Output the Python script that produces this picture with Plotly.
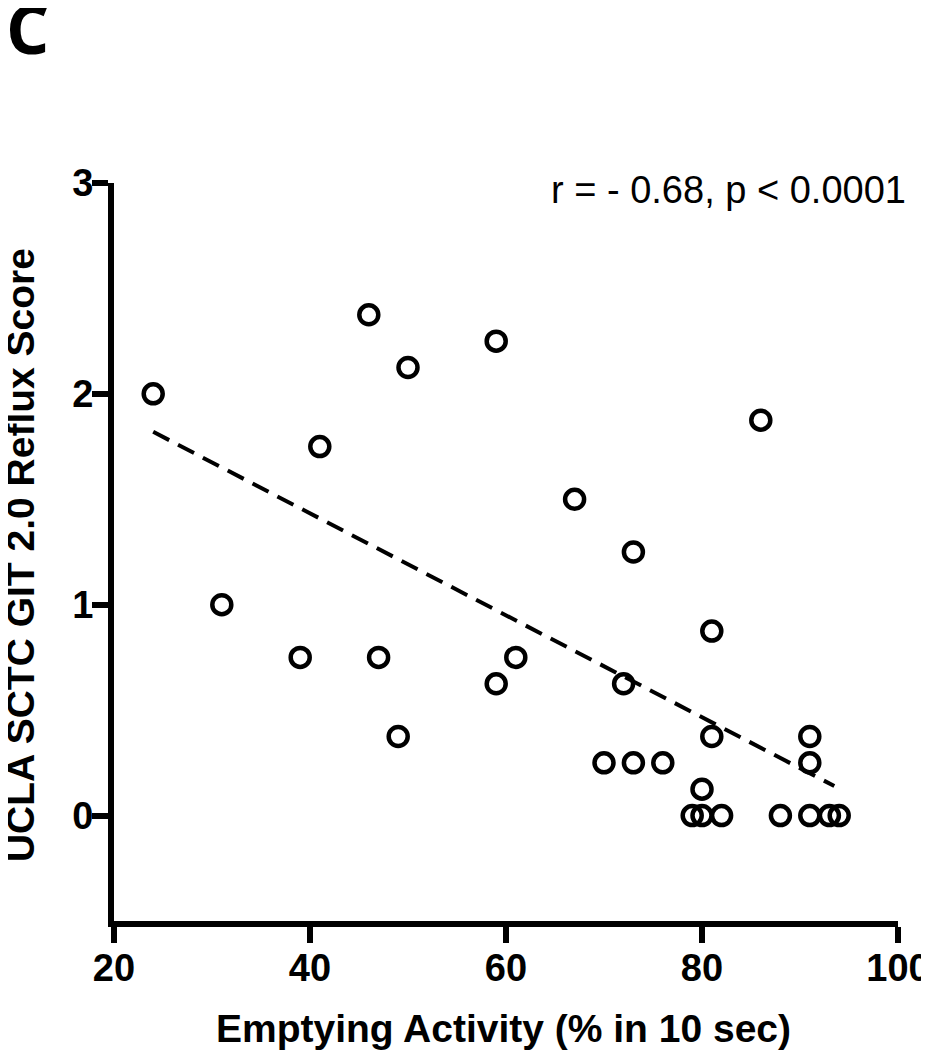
import plotly.graph_objects as go

# Data
emptying_activity = [24, 31, 39, 41, 46, 47, 49, 50, 59, 59, 61, 67, 70, 72, 73, 73, 76,
                     79, 80, 80, 81, 81, 82, 86, 88, 91, 91, 91, 93, 94]
reflux_score = [2.0, 1.0, 0.75, 1.75, 2.375, 0.75, 0.375, 2.125, 2.25, 0.625, 0.75, 1.5,
                0.25, 0.625, 1.25, 0.25, 0.25, 0.0, 0.125, 0.0, 0.875, 0.375, 0.0, 1.875,
                0.0, 0.375, 0.25, 0.0, 0.0, 0.0]
fit_x = [24, 93.5]
fit_y = [1.82, 0.14]

x_ticks = [20, 40, 60, 80, 100]
y_ticks = [0, 1, 2, 3]

FONT = "Liberation Sans, Arial, sans-serif"

fig = go.Figure()
fig.add_trace(go.Scatter(
    x=fit_x, y=fit_y, mode="lines",
    line=dict(color="black", width=4, dash="18px,10px"),
    showlegend=False, hoverinfo="skip"))
fig.add_trace(go.Scatter(
    x=emptying_activity, y=reflux_score, mode="markers",
    marker=dict(symbol="circle-open", size=19, color="black",
                line=dict(width=4.5, color="black")),
    showlegend=False))

tick_font = dict(family=FONT, size=38, color="black", weight="bold")

fig.update_layout(
    width=929, height=1050,
    margin=dict(l=106, r=39, t=175, b=137),
    plot_bgcolor="white", paper_bgcolor="white",
    xaxis=dict(range=[20, 100], tickvals=x_ticks, showgrid=False, zeroline=False,
               showline=True, linecolor="black", linewidth=6, automargin=False,
               ticks="outside", ticklen=16, tickwidth=6, tickcolor="black",
               tickfont=tick_font, ticklabeloverflow="allow", ticklabelstandoff=-8),
    yaxis=dict(range=[-0.5, 3], tickvals=y_ticks, showgrid=False, zeroline=False,
               showline=True, linecolor="black", linewidth=6, automargin=False,
               ticks="outside", ticklen=16, tickwidth=6, tickcolor="black",
               tickfont=tick_font, ticklabeloverflow="allow", ticklabelstandoff=-9),
    font=dict(family=FONT, color="black"),
)

fig.add_annotation(text="Emptying Activity (% in 10 sec)", xref="paper", yref="paper",
                   x=0.497, y=-0.146, xanchor="center", yanchor="middle", showarrow=False,
                   font=dict(family=FONT, size=39, color="black", weight="bold"))
fig.add_annotation(text="UCLA SCTC GIT 2.0 Reflux Score", xref="paper", yref="paper",
                   x=-0.1185, y=0.496, xanchor="center", yanchor="middle", showarrow=False,
                   textangle=-90,
                   font=dict(family=FONT, size=39, color="black", weight="bold"))
fig.add_annotation(text="r = - 0.68, p < 0.0001", xref="paper", yref="paper",
                   x=1.013, y=0.9905, xanchor="right", yanchor="middle", showarrow=False,
                   font=dict(family=FONT, size=38, color="black"))
fig.add_annotation(text="<b>C</b>", xref="paper", yref="paper",
                   x=-0.1405, y=1.211, xanchor="left", yanchor="middle", showarrow=False,
                   font=dict(family="Open Sans, sans-serif", size=68, color="black"))

fig.write_html("out.html")
